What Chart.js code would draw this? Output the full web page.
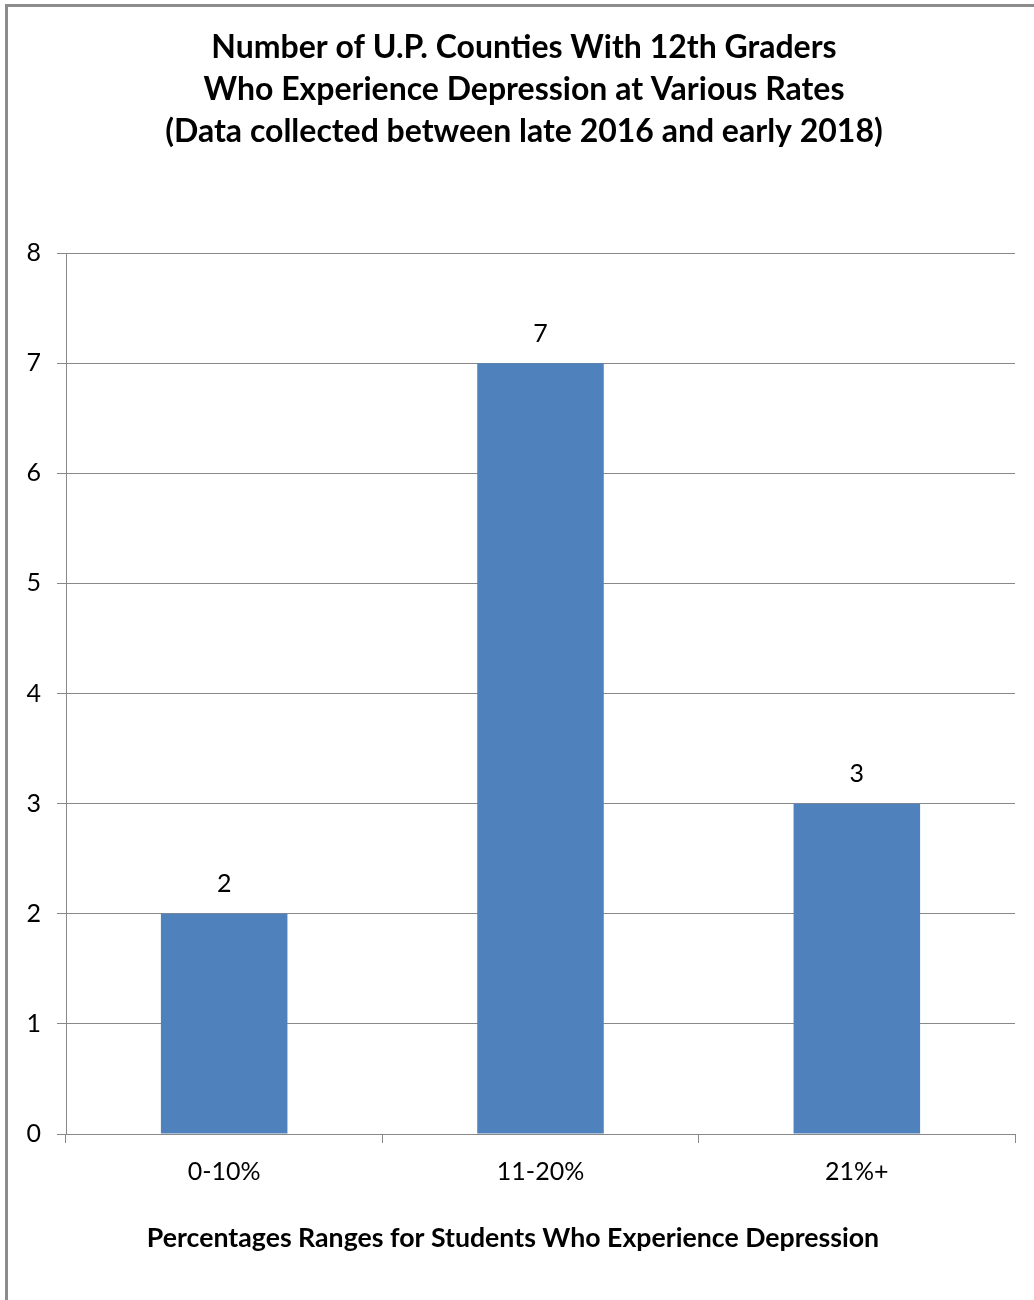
<!DOCTYPE html>
<html>
<head>
<meta charset="utf-8">
<script src="https://cdn.jsdelivr.net/npm/chart.js@4.4.1/dist/chart.umd.min.js"></script>
<style>
  html, body { margin: 0; padding: 0; background: #fff; }
  #wrap { position: relative; width: 1034px; height: 1300px; overflow: hidden; }
  #frame { position: absolute; left: 5px; top: 4px; width: 1100px; height: 1400px;
           border-left: 3px solid #8c8c8c; border-top: 3px solid #8c8c8c; box-sizing: border-box; }
  canvas { position: absolute; left: 0; top: 0; }
</style>
</head>
<body>
<div id="wrap">
  <div id="frame"></div>
  <canvas id="c" width="1034" height="1300"></canvas>
</div>
<script>
const titleLines = [
  "Number of U.P. Counties With 12th Graders",
  "Who Experience Depression at Various Rates",
  "(Data collected between late 2016 and early 2018)"
];
const categories = ["0-10%", "11-20%", "21%+"];
const counts = [2, 7, 3];
const xAxisTitle = "Percentages Ranges for Students Who Experience Depression";
const yMin = 0, yMax = 8, yStep = 1;

const FONT = "Lato, 'Liberation Sans', sans-serif";
const GRID = "#888888";

const labelPlugin = {
  id: 'barLabels',
  afterDatasetsDraw(chart) {
    const ctx = chart.ctx;
    const meta = chart.getDatasetMeta(0);
    ctx.save();
    ctx.font = "25px " + FONT;
    ctx.fillStyle = "#000";
    ctx.textAlign = "center";
    ctx.textBaseline = "bottom";
    meta.data.forEach((bar, i) => {
      ctx.fillText(String(chart.data.datasets[0].data[i]), bar.x, bar.y - 17);
    });
    ctx.restore();
  }
};

const textPlugin = {
  id: 'texts',
  afterDraw(chart) {
    const ctx = chart.ctx;
    ctx.save();
    ctx.fillStyle = "#000";
    ctx.textAlign = "center";
    ctx.textBaseline = "middle";
    // main title
    ctx.font = "bold 32px " + FONT;
    titleLines.forEach((line, i) => {
      ctx.fillText(line, chart.width / 2 + 7, 48 + i * 42);
    });
    // x-axis title
    ctx.font = "bold 26.7px " + FONT;
    ctx.fillText(xAxisTitle, chart.width / 2 - 4, chart.height - 62);
    ctx.restore();
  }
};

new Chart(document.getElementById('c'), {
  type: 'bar',
  data: {
    labels: categories,
    datasets: [{
      data: counts,
      backgroundColor: '#4F81BD',
      borderWidth: 0,
      categoryPercentage: 1.0,
      barPercentage: 0.4
    }]
  },
  options: {
    responsive: false,
    animation: false,
    devicePixelRatio: 1,
    layout: { padding: { left: 0, right: 19, top: 253, bottom: 0 } },
    plugins: {
      legend: { display: false },
      tooltip: { enabled: false },
      title: { display: false }
    },
    scales: {
      x: {
        offset: true,
        afterFit(scale) { scale.height = 166; },
        grid: { offset: true, drawOnChartArea: false, drawTicks: true, tickLength: 9, color: GRID, lineWidth: 1 },
        border: { display: true, color: GRID, width: 1 },
        ticks: { color: '#000', padding: 14, font: { family: FONT, size: 25 } },
        title: { display: false }
      },
      y: {
        min: yMin, max: yMax,
        afterFit(scale) { scale.width = 66; },
        grid: { color: GRID, lineWidth: 1, tickLength: 9, drawTicks: true },
        border: { display: true, color: GRID, width: 1 },
        ticks: { stepSize: yStep, color: '#000', padding: 16, font: { family: FONT, size: 25 } }
      }
    }
  },
  plugins: [labelPlugin, textPlugin]
});
</script>
</body>
</html>
